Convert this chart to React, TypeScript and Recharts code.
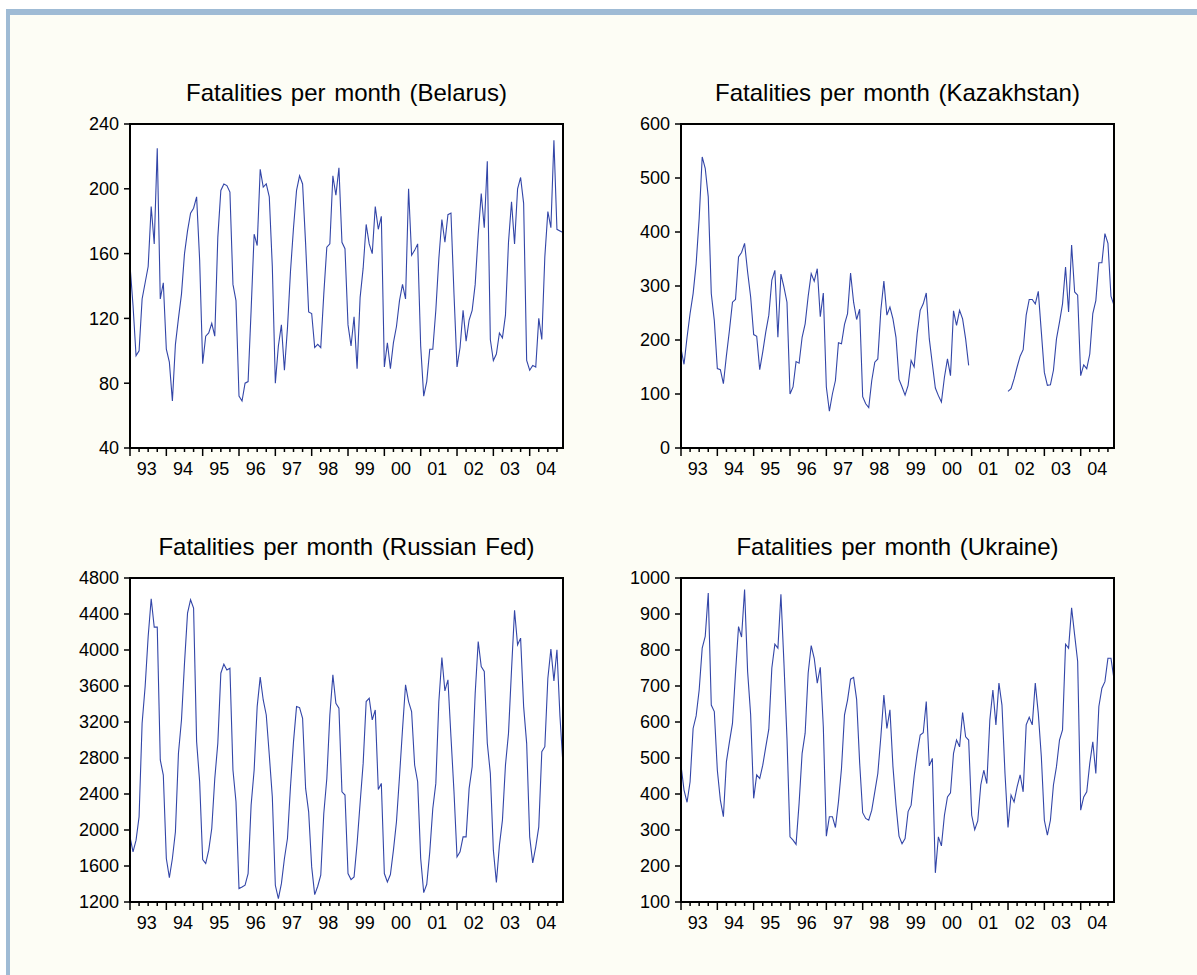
import { Line, LineChart, XAxis, YAxis } from "recharts";

const YEARS = ["93", "94", "95", "96", "97", "98", "99", "00", "01", "02", "03", "04"];

// monthly values, Jan 1993 .. Dec 2004
const BELARUS = [
  153, 128, 97, 100, 132, 142, 152, 189, 166, 225, 132, 142,
  101, 93, 69, 104, 120, 135, 160, 174, 185, 188, 195, 156,
  92, 109, 111, 117, 109, 170, 199, 203, 202, 198, 141, 131,
  72, 69, 80, 81, 125, 172, 165, 212, 201, 203, 195, 152,
  80, 103, 116, 88, 114, 149, 176, 199, 208, 203, 166, 124,
  123, 102, 104, 102, 135, 164, 166, 208, 196, 213, 167, 163,
  116, 103, 121, 89, 133, 151, 178, 166, 160, 189, 175, 183,
  90, 105, 89, 105, 115, 131, 141, 132, 200, 159, 162, 166,
  103, 72, 81, 101, 101, 125, 157, 181, 167, 184, 185, 135,
  90, 102, 125, 106, 119, 125, 141, 172, 197, 176, 217, 107,
  94, 98, 111, 108, 122, 167, 192, 166, 200, 207, 191, 94,
  88, 91, 90, 120, 107, 158, 186, 176, 230, 175, 174, 173,
];

const KAZAKHSTAN: (number | null)[] = [
  184, 155, 205, 249, 286, 341, 425, 539, 518, 465, 286, 236,
  147, 145, 119, 171, 218, 270, 275, 354, 362, 379, 326, 280,
  210, 207, 145, 178, 215, 246, 311, 329, 205, 322, 298, 270,
  100, 113, 160, 157, 205, 230, 281, 323, 309, 332, 243, 287,
  113, 68, 100, 125, 195, 193, 229, 249, 324, 270, 238, 257,
  95, 82, 75, 125, 159, 165, 255, 309, 246, 261, 239, 205,
  127, 113, 98, 116, 162, 150, 212, 255, 267, 287, 202, 156,
  111, 97, 85, 131, 165, 134, 254, 227, 255, 239, 202, 153,
  null, null, null, null, null, null, null, null, null, null, null, null,
  105, 110, 128, 150, 170, 182, 246, 275, 275, 267, 290, 215,
  140, 116, 117, 144, 202, 233, 267, 335, 252, 376, 289, 283,
  134, 154, 147, 174, 249, 273, 343, 343, 397, 379, 281, 264,
];

const RUSSIA = [
  1924, 1757, 1887, 2147, 3186, 3594, 4150, 4570, 4254, 4254, 2778, 2610,
  1683, 1471, 1683, 1980, 2852, 3223, 3854, 4410, 4559, 4466, 2982, 2536,
  1672, 1627, 1776, 2017, 2573, 2963, 3742, 3843, 3779, 3798, 2666, 2314,
  1349, 1367, 1386, 1516, 2277, 2666, 3371, 3698, 3445, 3278, 2833, 2369,
  1386, 1238, 1404, 1683, 1905, 2481, 2982, 3371, 3360, 3241, 2462, 2202,
  1590, 1282, 1375, 1497, 2184, 2573, 3278, 3724, 3408, 3353, 2425, 2388,
  1516, 1449, 1479, 1850, 2303, 2740, 3427, 3464, 3223, 3334, 2451, 2518,
  1516, 1423, 1505, 1776, 2091, 2592, 3119, 3613, 3427, 3316, 2722, 2536,
  1683, 1304, 1397, 1757, 2239, 2518, 3427, 3917, 3546, 3668, 3037, 2425,
  1701, 1757, 1924, 1924, 2462, 2703, 3520, 4095, 3817, 3761, 2963, 2629,
  1776, 1416, 1831, 2110, 2722, 3074, 3779, 4440, 4058, 4132, 3371, 2963,
  1924, 1635, 1813, 2035, 2870, 2926, 3687, 4010, 3657, 4002, 3260, 2722,
];

const UKRAINE = [
  480, 411, 377, 434, 582, 617, 689, 805, 838, 958, 647, 629,
  466, 383, 337, 490, 545, 596, 736, 865, 836, 968, 740, 620,
  388, 453, 443, 480, 531, 580, 750, 816, 805, 955, 763, 555,
  281, 272, 260, 374, 513, 569, 736, 812, 777, 708, 752, 587,
  283, 337, 337, 307, 378, 471, 620, 661, 719, 724, 663, 487,
  348, 332, 327, 355, 406, 457, 559, 675, 582, 634, 476, 369,
  283, 262, 276, 351, 369, 450, 513, 564, 570, 657, 478, 499,
  181, 281, 256, 341, 392, 403, 513, 550, 531, 626, 559, 550,
  341, 301, 325, 425, 466, 429, 606, 689, 592, 708, 647, 457,
  307, 397, 378, 420, 453, 406, 592, 613, 592, 708, 624, 504,
  327, 286, 327, 425, 476, 550, 578, 816, 805, 917, 842, 768,
  355, 392, 406, 485, 545, 457, 643, 694, 712, 777, 777, 719,
];

const BELARUS_TICKS = [40, 80, 120, 160, 200, 240];
const KAZAKHSTAN_TICKS = [0, 100, 200, 300, 400, 500, 600];
const RUSSIA_TICKS = [1200, 1600, 2000, 2400, 2800, 3200, 3600, 4000, 4400, 4800];
const UKRAINE_TICKS = [100, 200, 300, 400, 500, 600, 700, 800, 900, 1000];

const FONT = '"Liberation Sans", Arial, sans-serif';
const LINE_COLOR = "#3346a8";
const PLOT_W = 433;
const PLOT_H = 324;
const Y_AXIS_W = 70;
const N = BELARUS.length;
const STEP = PLOT_W / (N - 1);
const QUARTER_TICKS = Array.from({ length: N / 3 }, (_, k) => k * 3);

// quarter ticks below the axis, longer at each January, year label centred on the year
function MonthTick(props: any) {
  const { x, y, payload } = props;
  const idx = payload.value as number;
  const isYear = idx % 12 === 0;
  return (
    <g>
      <line x1={x} x2={x} y1={y} y2={y + (isYear ? 8 : 4)} stroke="#000" strokeWidth={1.5} />
      {isYear && (
        <text x={x + STEP * 5.5} y={y + 27} textAnchor="middle" fontSize={18} fontFamily={FONT} fill="#000">
          {YEARS[idx / 12]}
        </text>
      )}
    </g>
  );
}

type PanelProps = {
  title: string;
  values: (number | null)[];
  ticks: number[];
  left: number;
  top: number;
};

function Panel({ title, values, ticks, left, top }: PanelProps) {
  const rows = values.map((v, i) => ({ i, v }));
  const domain = [ticks[0], ticks[ticks.length - 1]];
  return (
    <>
      <div
        style={{
          position: "absolute",
          left: left - 20,
          top: top - 46,
          width: PLOT_W + 40,
          height: 30,
          lineHeight: "30px",
          textAlign: "center",
          fontFamily: FONT,
          fontSize: 24,
          wordSpacing: 2,
          color: "#000",
          whiteSpace: "nowrap",
        }}
      >
        {title}
      </div>
      <div style={{ position: "absolute", left, top, width: PLOT_W, height: PLOT_H, background: "#ffffff" }} />
      <div style={{ position: "absolute", left: left - Y_AXIS_W, top: top - 10 }}>
        <LineChart
          width={Y_AXIS_W + PLOT_W + 10}
          height={PLOT_H + 10 + 40}
          data={rows}
          margin={{ top: 10, right: 10, bottom: 0, left: 0 }}
        >
          <XAxis
            dataKey="i"
            type="number"
            domain={[0, N - 1]}
            ticks={QUARTER_TICKS}
            interval={0}
            height={40}
            tickSize={0}
            tickMargin={0}
            tickLine={false}
            axisLine={{ stroke: "#000", strokeWidth: 2 }}
            tick={<MonthTick />}
          />
          <YAxis
            type="number"
            domain={domain}
            ticks={ticks}
            interval={0}
            width={Y_AXIS_W}
            tickSize={6}
            tickMargin={5}
            tickLine={{ stroke: "#000", strokeWidth: 1.5 }}
            axisLine={{ stroke: "#000", strokeWidth: 2 }}
            tick={{ fontSize: 18, fontFamily: FONT, fill: "#000" }}
          />
          <Line
            dataKey="v"
            type="linear"
            stroke={LINE_COLOR}
            strokeWidth={1.1}
            dot={false}
            activeDot={false}
            connectNulls={false}
            isAnimationActive={false}
          />
        </LineChart>
      </div>
      <div
        style={{
          position: "absolute",
          left: left - 1,
          top: top - 1,
          width: PLOT_W + 2,
          height: PLOT_H + 2,
          border: "2px solid #000",
          boxSizing: "border-box",
          pointerEvents: "none",
        }}
      />
    </>
  );
}

export default function App() {
  return (
    <div style={{ position: "absolute", left: 0, top: 0, width: 1197, height: 975, background: "#fff", overflow: "hidden" }}>
      <div style={{ position: "absolute", left: 6, top: 9, width: 1191, height: 966, background: "#9fbbd5" }} />
      <div style={{ position: "absolute", left: 10, top: 15, width: 1187, height: 960, background: "#fdfdf5" }} />
      <Panel title="Fatalities per month (Belarus)" values={BELARUS} ticks={BELARUS_TICKS} left={130} top={124} />
      <Panel title="Fatalities per month (Kazakhstan)" values={KAZAKHSTAN} ticks={KAZAKHSTAN_TICKS} left={681} top={124} />
      <Panel title="Fatalities per month (Russian Fed)" values={RUSSIA} ticks={RUSSIA_TICKS} left={130} top={578} />
      <Panel title="Fatalities per month (Ukraine)" values={UKRAINE} ticks={UKRAINE_TICKS} left={681} top={578} />
    </div>
  );
}
